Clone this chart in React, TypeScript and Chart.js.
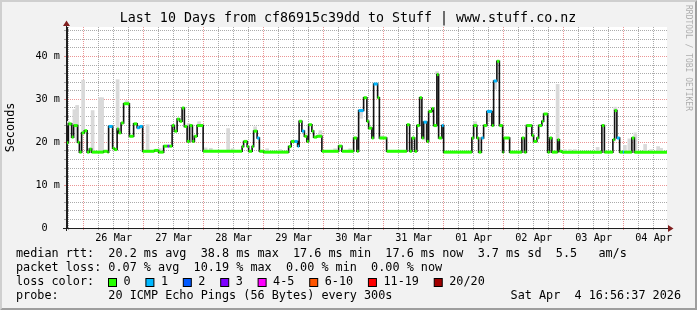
import React, { useEffect, useRef } from "react";
import { Chart, registerables } from "chart.js";

Chart.register(...registerables);

const FONT = "'DejaVu Sans Mono', 'Liberation Mono', monospace";

const TITLE = "Last 10 Days from cf86915c39dd to Stuff | www.stuff.co.nz";
const Y_TITLE = "Seconds";
const WATERMARK = "RRDTOOL / TOBI OETIKER";

// x axis: hours after 26 Mar 00:00
const X_MIN = -6.65;
const X_MAX = 233.35;
const X_TICKS = [-6, 0, 6, 12, 18, 24, 30, 36, 42, 48, 54, 60, 66, 72, 78, 84, 90, 96, 102, 108, 114, 120, 126, 132, 138, 144, 150, 156, 162, 168, 174, 180, 186, 192, 198, 204, 210, 216, 222, 228];
const DAY_LABELS = ["26 Mar", "27 Mar", "28 Mar", "29 Mar", "30 Mar", "31 Mar", "01 Apr", "02 Apr", "03 Apr", "04 Apr"];
const Y_MAX = 46.9;
const Y_TICKS = [0, 2, 4, 6, 8, 10, 12, 14, 16, 18, 20, 22, 24, 26, 28, 30, 32, 34, 36, 38, 40, 42, 44, 46];

// median rtt (ms), each value held from its hour until the next one
const medianHours = [-6.6, -6.1, -4.8, -4.0, -2.4, -1.7, -0.8, 0.3, 1.4, 2.3, 3.2, 8.0, 9.6, 10.0, 11.6, 12.3, 13.4, 14.0, 15.0, 16.0, 18.3, 20.0, 21.4, 22.4, 23.6, 28.3, 30.0, 32.0, 33.6, 34.3, 35.4, 36.3, 37.4, 38.4, 39.4, 40.3, 41.4, 42.4, 43.5, 44.3, 45.4, 47.8, 63.4, 64.0, 65.4, 66.0, 67.4, 68.0, 69.4, 70.3, 72.0, 82.0, 83.0, 84.4, 85.6, 86.2, 87.3, 88.3, 89.3, 90.0, 91.3, 92.0, 93.3, 95.3, 102.0, 103.3, 108.0, 109.3, 110.0, 112.0, 113.3, 114.0, 115.3, 116.0, 117.6, 118.3, 121.2, 129.3, 130.4, 131.3, 132.4, 133.3, 134.4, 135.3, 136.0, 137.3, 138.0, 139.3, 140.0, 141.3, 142.0, 143.3, 144.0, 155.3, 156.0, 157.3, 158.0, 159.1, 160.0, 161.3, 163.3, 164.0, 165.3, 166.3, 167.6, 168.0, 170.4, 175.3, 176.3, 177.1, 179.3, 180.0, 181.3, 182.0, 183.3, 184.0, 185.6, 186.4, 187.3, 189.6, 190.3, 191.3, 207.3, 208.3, 211.7, 212.4, 213.3, 214.4, 215.7, 216.2, 219.3, 220.3];
const medianMs = [19.9, 24.3, 21.2, 23.9, 20.0, 17.7, 22.2, 22.7, 17.7, 18.4, 17.7, 17.9, 17.7, 23.7, 18.6, 18.3, 23.1, 22.2, 24.5, 29.0, 21.4, 24.3, 23.4, 23.7, 17.9, 18.1, 17.7, 19.1, 19.1, 19.1, 23.9, 22.6, 25.4, 24.9, 28.0, 23.7, 20.2, 23.9, 20.2, 21.4, 23.9, 17.9, 19.0, 20.2, 19.0, 17.9, 19.0, 22.6, 21.0, 17.9, 17.7, 19.0, 20.2, 20.2, 19.1, 24.9, 22.6, 21.4, 20.2, 24.1, 22.6, 21.2, 21.4, 17.9, 19.1, 17.9, 21.0, 17.9, 27.4, 30.4, 24.9, 23.3, 21.0, 33.6, 30.4, 21.0, 17.9, 24.1, 17.9, 21.0, 17.9, 23.9, 30.4, 21.0, 24.7, 20.2, 27.2, 27.9, 23.9, 35.8, 21.0, 23.9, 17.7, 21.0, 23.9, 21.0, 17.7, 21.0, 23.9, 27.2, 23.9, 34.3, 38.9, 23.9, 17.7, 21.0, 17.7, 21.0, 17.7, 23.9, 21.6, 20.2, 21.0, 23.9, 24.9, 26.6, 17.7, 21.0, 17.7, 20.6, 17.9, 17.7, 23.9, 17.7, 20.6, 27.4, 21.0, 17.7, 17.7, 17.7, 21.0, 17.7];
const medianLoss = [0, 0, 0, 0, 0, 0, 0, 0, 0, 0, 0, 0, 0, 1, 0, 0, 0, 0, 0, 0, 0, 0, 1, 1, 0, 0, 0, 0, 3, 0, 0, 0, 0, 0, 0, 0, 0, 0, 0, 0, 0, 0, 0, 0, 0, 0, 0, 0, 1, 0, 0, 0, 0, 1, 1, 0, 1, 0, 0, 0, 0, 0, 0, 0, 0, 0, 0, 0, 1, 0, 0, 0, 0, 1, 0, 0, 0, 0, 0, 0, 0, 0, 0, 0, 1, 0, 0, 0, 0, 0, 0, 1, 0, 0, 0, 0, 0, 1, 0, 1, 0, 1, 0, 0, 0, 0, 0, 0, 0, 0, 0, 0, 0, 0, 0, 0, 0, 0, 0, 0, 0, 0, 0, 0, 0, 0, 1, 0, 1, 0, 0, 0];

// smoke (spread of the 20 pings) in ms
const smokeHours = [-6.2, -3.7, -2.6, -0.2, 3.6, 6.5, 7.4, 13.6, 17.2, 25.6, 30.5, 42.0, 46.2, 48.8, 50.9, 57.8, 59.6, 68.6, 73.4, 78.6, 94.7, 100.6, 106.6, 111.0, 119.5, 136.7, 141.4, 156.6, 161.9, 164.6, 189.6, 192.5, 194.5, 196.5, 205.6, 212.7, 216.5, 218.3, 220.7, 224.6, 227.0, 229.8, 231.0];
const smokeLow = [24.0, 23.9, 20.0, 22.2, 17.7, 17.7, 17.7, 22.0, 29.0, 17.9, 17.7, 20.2, 23.9, 17.9, 17.9, 17.9, 17.9, 22.6, 17.7, 17.7, 21.4, 17.9, 17.9, 25.6, 21.0, 20.5, 35.8, 23.9, 24.9, 32.4, 17.7, 17.7, 17.7, 17.7, 17.7, 27.4, 17.7, 17.7, 17.7, 17.7, 17.7, 17.7, 17.7];
const smokeHigh = [24.9, 27.6, 28.6, 34.5, 27.4, 30.4, 30.4, 34.6, 29.7, 24.1, 18.5, 24.4, 24.8, 18.7, 18.6, 23.2, 18.5, 23.6, 18.5, 18.3, 22.7, 18.5, 18.5, 27.4, 21.5, 24.5, 36.5, 24.8, 27.3, 34.3, 33.5, 18.3, 18.3, 18.3, 18.8, 28.2, 19.3, 20.8, 22.2, 19.5, 18.3, 19.0, 18.6];

const LOSS_LABELS = ["0", "1", "2", "3", "4-5", "6-10", "11-19", "20/20"];
const LOSS_COLORS = ["#26ff00", "#00b8ff", "#0059ff", "#7e00ff", "#ff00ff", "#ff5500", "#ff0000", "#a10000"];
const LOSS_UPPER = [0, 1, 2, 3, 5, 10, 19, 20];

const MEDIAN_LEGEND = ["median rtt:  20.2 ms avg", "38.8 ms max", "17.6 ms min", "17.6 ms now", "3.7 ms sd", "5.5   am/s"];
const LOSS_LEGEND = ["packet loss: 0.07 % avg", "10.19 % max", "0.00 % min", "0.00 % now"];
const LOSS_TITLE = "loss color:";
const PROBE = "probe:       20 ICMP Echo Pings (56 Bytes) every 300s";
const TIMESTAMP = "Sat Apr  4 16:56:37 2026";

const BACK = "#f2f2f2";
const SHADE_A = "#cfcfcf";
const SHADE_B = "#9e9e9e";
const GRID = "rgba(143,143,143,0.75)";
const MGRID = "rgba(222,79,79,0.6)";
const ARROW = "#801f1f";
const AXIS = "#1f1f1f";

function lossColor(loss: number) {
  for (let i = 0; i < LOSS_UPPER.length; i++) if (loss <= LOSS_UPPER[i]) return LOSS_COLORS[i];
  return LOSS_COLORS[LOSS_COLORS.length - 1];
}

const rrdPlugin = {
  id: "rrdFrame",
  beforeDraw(chart: any) {
    const { ctx, width, height, chartArea: a } = chart;
    ctx.save();
    ctx.fillStyle = BACK;
    ctx.fillRect(0, 0, width, height);
    ctx.fillStyle = SHADE_A;
    ctx.beginPath();
    ctx.moveTo(0, height); ctx.lineTo(2, height - 2); ctx.lineTo(2, 2);
    ctx.lineTo(width - 2, 2); ctx.lineTo(width, 0); ctx.lineTo(0, 0); ctx.closePath();
    ctx.fill();
    ctx.fillStyle = SHADE_B;
    ctx.beginPath();
    ctx.moveTo(2, height - 2); ctx.lineTo(width - 2, height - 2); ctx.lineTo(width - 2, 2);
    ctx.lineTo(width, 0); ctx.lineTo(width, height); ctx.lineTo(0, height); ctx.closePath();
    ctx.fill();
    ctx.fillStyle = "#ffffff";
    ctx.fillRect(a.left, a.top, a.right - a.left, a.bottom - a.top);
    ctx.restore();
  },
  afterDraw(chart: any) {
    const { ctx, width, chartArea: a } = chart;
    ctx.save();
    // axis extensions and arrows
    ctx.strokeStyle = AXIS;
    ctx.lineWidth = 1;
    ctx.beginPath();
    ctx.moveTo(a.left - 4, Math.round(a.bottom) + 0.5);
    ctx.lineTo(a.right + 2, Math.round(a.bottom) + 0.5);
    ctx.moveTo(Math.round(a.left) - 0.5, a.bottom + 3);
    ctx.lineTo(Math.round(a.left) - 0.5, a.top - 1);
    ctx.stroke();
    ctx.fillStyle = ARROW;
    const ax = Math.round(a.left) - 0.5;
    ctx.beginPath();
    ctx.moveTo(ax - 3.5, a.top - 1); ctx.lineTo(ax + 3.5, a.top - 1); ctx.lineTo(ax, a.top - 6.5); ctx.closePath();
    ctx.fill();
    const ay = Math.round(a.bottom) + 0.5;
    ctx.beginPath();
    ctx.moveTo(a.right + 1, ay - 3.5); ctx.lineTo(a.right + 1, ay + 3.5); ctx.lineTo(a.right + 6.5, ay); ctx.closePath();
    ctx.fill();

    // title
    ctx.fillStyle = "#000";
    ctx.textBaseline = "middle";
    ctx.textAlign = "center";
    ctx.font = `13.3px ${FONT}`;
    ctx.fillText(TITLE, 348, 19);

    // y title
    ctx.font = `11.8px ${FONT}`;
    ctx.save();
    ctx.translate(11, (a.top + a.bottom) / 2);
    ctx.rotate(-Math.PI / 2);
    ctx.fillText(Y_TITLE, 0, 0);
    ctx.restore();

    // watermark
    ctx.save();
    ctx.fillStyle = "rgba(0,0,0,0.3)";
    ctx.font = `8px ${FONT}`;
    ctx.translate(width - 9, 5);
    ctx.rotate(Math.PI / 2);
    ctx.textAlign = "left";
    ctx.fillText(WATERMARK, 0, 0);
    ctx.restore();

    // legend
    ctx.textAlign = "left";
    ctx.font = `11.8px ${FONT}`;
    ctx.fillText(MEDIAN_LEGEND.join("  "), 16, 254);
    ctx.fillText(LOSS_LEGEND.join("  "), 16, 268);
    ctx.fillText(LOSS_TITLE, 16, 282);
    let bx = 108.5;
    LOSS_LABELS.forEach((lab, i) => {
      ctx.fillStyle = LOSS_COLORS[i];
      ctx.fillRect(bx, 278.5, 8, 8);
      ctx.strokeStyle = "#000";
      ctx.lineWidth = 1;
      ctx.strokeRect(bx, 278.5, 8, 8);
      ctx.fillStyle = "#000";
      ctx.fillText(lab, bx + 15, 282);
      bx += 15 + ctx.measureText(lab).width + 15.3;
    });
    ctx.fillText(PROBE, 16, 296);
    ctx.textAlign = "right";
    ctx.fillText(TIMESTAMP, 681, 296);
    ctx.restore();
  },
};

export default function App() {
  const canvasRef = useRef<HTMLCanvasElement | null>(null);

  useEffect(() => {
    const canvas = canvasRef.current;
    if (!canvas) return;

    const last = medianHours.length - 1;
    const stepData = medianHours.map((h, i) => ({ x: h, y: medianMs[i] }));
    stepData.push({ x: X_MAX, y: medianMs[last] });

    const segData: { x: number; y: number | null }[] = [];
    medianHours.forEach((h, i) => {
      const next = i < last ? medianHours[i + 1] : X_MAX;
      segData.push({ x: h, y: medianMs[i] }, { x: next, y: medianMs[i] }, { x: next, y: null });
    });

    const smokeData = smokeHours.map((h, i) => ({ x: h, y: [smokeLow[i], smokeHigh[i]] }));

    const chart = new Chart(canvas, {
      type: "line",
      data: {
        datasets: [
          {
            type: "line",
            label: "median loss color",
            data: segData as any,
            order: 0,
            borderWidth: 3,
            borderCapStyle: "butt",
            pointRadius: 0,
            spanGaps: false,
            borderColor: LOSS_COLORS[0],
            segment: {
              borderColor: (c: any) => lossColor(medianLoss[Math.floor(c.p0DataIndex / 3)]),
            },
          } as any,
          {
            type: "line",
            label: "median rtt",
            data: stepData as any,
            order: 1,
            stepped: "before",
            borderWidth: 1.6,
            borderColor: "#111111",
            pointRadius: 0,
          } as any,
          {
            type: "bar",
            label: "smoke",
            data: smokeData as any,
            order: 2,
            backgroundColor: "#d9d9d9",
            borderWidth: 0,
            barThickness: 3,
            grouped: false,
          } as any,
        ],
      },
      options: {
        animation: false,
        responsive: false,
        devicePixelRatio: 1,
        events: [],
        layout: { padding: { left: 0, right: 30, top: 27, bottom: 62 } },
        plugins: { legend: { display: false }, tooltip: { enabled: false }, title: { display: false } },
        scales: {
          x: {
            type: "linear",
            min: X_MIN,
            max: X_MAX,
            offset: false,
            afterBuildTicks: (s: any) => {
              s.ticks = X_TICKS.map((v) => ({ value: v }));
            },
            afterFit: (s: any) => {
              s.height = 20;
            },
            grid: {
              offset: false,
              lineWidth: 1,
              color: (c: any) => (c.tick && c.tick.value % 24 === 0 ? MGRID : GRID),
              drawTicks: true,
              tickLength: 2,
              tickColor: (c: any) => (c.tick && c.tick.value % 24 === 0 ? MGRID : GRID),
            },
            border: { display: true, color: AXIS, width: 1, dash: [1, 1] },
            ticks: {
              autoSkip: false,
              maxRotation: 0,
              minRotation: 0,
              padding: 2,
              color: "#000",
              font: { family: FONT, size: 10.2 },
              callback: (v: any) => {
                const h = Number(v);
                if (((h % 24) + 24) % 24 !== 12) return "";
                return DAY_LABELS[(h - 12) / 24] || "";
              },
            },
          },
          y: {
            type: "linear",
            min: 0,
            max: Y_MAX,
            afterBuildTicks: (s: any) => {
              s.ticks = Y_TICKS.map((v) => ({ value: v }));
            },
            afterFit: (s: any) => {
              s.width = 67;
            },
            grid: {
              lineWidth: 1,
              color: (c: any) => (c.tick && c.tick.value % 10 === 0 ? MGRID : GRID),
              drawTicks: true,
              tickLength: 3,
              tickColor: (c: any) => (c.tick && c.tick.value % 10 === 0 ? MGRID : GRID),
            },
            border: { display: true, color: AXIS, width: 1, dash: [1, 1] },
            ticks: {
              autoSkip: false,
              padding: 4,
              color: "#000",
              font: { family: FONT, size: 10.2 },
              callback: (v: any) => {
                const n = Number(v);
                if (n % 10 !== 0) return "";
                return n === 0 ? "0  " : `${n} m`;
              },
            },
          },
        },
      },
      plugins: [rrdPlugin],
    });

    return () => chart.destroy();
  }, []);

  return (
    <div style={{ position: "fixed", left: 0, top: 0, width: 697, height: 310 }}>
      <canvas ref={canvasRef} width={697} height={310} style={{ display: "block", width: 697, height: 310 }} />
    </div>
  );
}
